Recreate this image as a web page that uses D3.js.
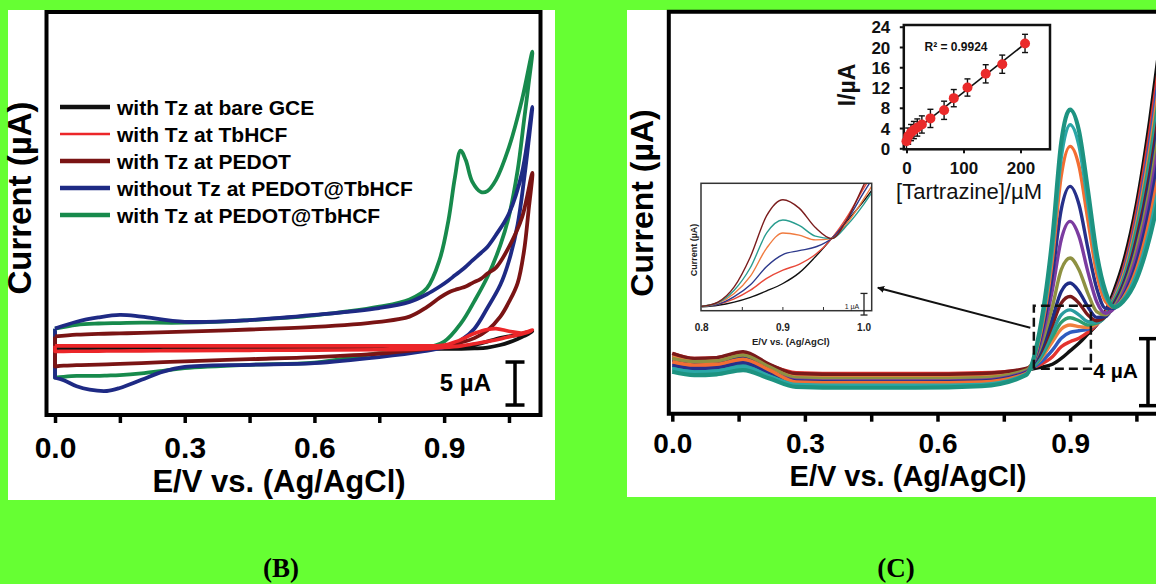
<!DOCTYPE html>
<html><head><meta charset="utf-8">
<script src="https://cdn.jsdelivr.net/npm/d3@7"></script>
<style>body{margin:0;background:#66ff33}svg{display:block}</style>
</head><body>
<svg id="c" width="1156" height="584"></svg>
<script>
// ---------------- Panel B data (cyclic voltammograms) ----------------
const bNames = ["with Tz at bare GCE","with Tz at TbHCF","with Tz at PEDOT","without Tz at PEDOT@TbHCF","with Tz at PEDOT@TbHCF"];
const bColors = ["#111111","#ec2629","#7a1414","#1e2a84","#178a4c"];
const bE_fwd = [0,0.05,0.1,0.15,0.2,0.3,0.45,0.6,0.75,0.82,0.86,0.89,0.91,0.925,0.938,0.95,0.965,0.985,1.0,1.02,1.05,1.08,1.104];
const bE_rev = [1.104,1.095,1.085,1.07,1.05,1.03,1.0,0.97,0.94,0.9,0.85,0.75,0.6,0.45,0.3,0.25,0.2,0.15,0.12,0.08,0.05,0.02,0];
const bBare_fwd  = [-0.3,-0.3,-0.3,-0.3,-0.3,-0.3,-0.3,-0.3,-0.3,-0.3,-0.3,-0.28,-0.25,-0.2,-0.15,-0.1,0.0,0.2,0.4,0.7,1.0,1.3,1.6];
const bBare_rev  = [1.6,1.3,1.05,0.7,0.3,0.0,-0.3,-0.4,-0.45,-0.45,-0.45,-0.45,-0.45,-0.47,-0.47,-0.48,-0.48,-0.49,-0.49,-0.5,-0.5,-0.5,-0.5];
const bTb_fwd    = [-0.1,-0.1,-0.1,-0.1,-0.1,-0.1,-0.1,-0.1,-0.1,-0.1,-0.1,-0.05,0.1,0.35,0.6,0.9,1.25,1.6,1.8,1.9,1.6,1.4,1.75];
const bTb_rev    = [1.75,1.5,1.35,1.15,0.95,0.7,0.4,0.15,-0.1,-0.3,-0.45,-0.55,-0.6,-0.62,-0.65,-0.66,-0.68,-0.7,-0.7,-0.72,-0.73,-0.74,-0.75];
const bPedot_fwd = [1.0,1.2,1.3,1.35,1.4,1.55,1.8,2.1,2.7,3.3,4.4,5.5,6.1,6.4,6.6,6.8,7.2,7.7,8.3,9.0,11.4,14.8,20.0];
const bPedot_rev = [20.0,15.5,11.0,7.2,5.0,3.3,1.7,0.8,0.3,-0.2,-0.5,-1.0,-1.4,-1.65,-1.9,-2.0,-2.1,-2.2,-2.25,-2.3,-2.35,-2.4,-2.5];
const bNoTz_fwd  = [1.9,2.7,3.2,3.5,3.3,2.7,2.9,3.5,4.3,5.0,5.9,6.8,7.5,8.1,8.6,9.1,9.8,10.7,11.4,12.8,15.3,20.0,27.7];
const bNoTz_rev  = [27.7,23.5,19.3,14.0,9.8,7.0,4.3,1.9,0.6,-0.25,-0.75,-1.4,-2.1,-2.3,-2.55,-3.1,-4.05,-5.0,-5.35,-5.2,-4.8,-4.1,-3.8];
const bFull_fwd  = [1.9,2.35,2.5,2.55,2.6,2.6,2.9,3.45,4.45,5.3,6.6,10.0,14.5,19.5,22.6,21.5,19.0,17.8,17.9,19.2,23.0,28.5,34.1];
const bFull_rev  = [34.1,30.2,26.2,20.3,15.0,11.6,7.9,5.1,2.6,0.4,-0.4,-0.95,-2.05,-2.3,-2.7,-3.0,-3.3,-3.5,-3.55,-3.6,-3.6,-3.7,-3.8];
const bXTicks = [0,0.3,0.6,0.9];
const bXTickLabels = ["0.0","0.3","0.6","0.9"];
const bXMinor = [0.15,0.45,0.75,1.05];

// ---------------- Panel C data (DPV) ----------------
const cE = [0,0.05,0.1,0.16,0.22,0.28,0.4,0.55,0.7,0.8,0.83,0.86,0.88,0.9,0.92,0.94,0.96,0.98,1.0,1.02,1.05,1.08,1.1];
const cBlack   = [3.4,3.25,3.3,3.65,2.9,2.35,2.3,2.3,2.35,2.6,2.75,2.95,3.3,3.75,4.2,4.75,5.3,6.1,7.4,9.0,12.5,17.5,21.5];
const cRed     = [3.6,3.3,3.35,3.6,2.9,2.45,2.4,2.4,2.45,2.65,2.9,3.4,4.0,4.3,4.5,4.85,5.3,6.0,7.1,8.6,12.0,16.8,20.6];
const cBlue    = [3.2,3.0,3.05,3.3,2.7,2.15,2.1,2.1,2.15,2.55,3.0,3.8,4.5,4.85,4.95,5.05,5.35,5.9,7.0,8.4,11.6,16.2,20.0];
const cOrange2 = [3.4,3.15,3.2,3.45,2.8,2.25,2.2,2.2,2.25,2.6,3.15,4.3,5.05,5.3,5.2,5.15,5.35,5.85,6.9,8.2,11.3,15.7,19.4];
const cGreen   = [2.6,2.45,2.5,2.75,2.2,1.8,1.75,1.75,1.85,2.45,3.2,4.6,5.45,5.73,5.55,5.3,5.4,5.85,6.8,8.0,11.0,15.2,18.8];
const cTeal2   = [2.8,2.6,2.65,2.9,2.3,1.85,1.8,1.8,1.9,2.5,3.3,4.9,5.9,6.2,5.9,5.5,5.45,5.8,6.7,7.9,10.7,14.8,18.3];
const cMaroon  = [3.6,3.3,3.35,3.7,2.95,2.4,2.35,2.35,2.4,2.7,3.5,5.3,6.6,7.0,6.6,5.9,5.55,5.8,6.6,7.7,10.4,14.3,17.8];
const cNavy2   = [3.2,3.0,3.05,3.35,2.7,2.05,2.0,2.0,2.05,2.55,3.6,5.7,7.3,7.8,7.3,6.4,5.75,5.8,6.5,7.6,10.1,13.9,17.3];
const cOlive   = [3.3,3.1,3.15,3.5,2.8,2.15,2.1,2.1,2.15,2.6,3.8,6.4,8.6,9.3,8.6,7.2,6.1,5.9,6.4,7.4,9.8,13.4,16.7];
const cPurple  = [3.0,2.8,2.85,3.15,2.5,2.0,1.95,1.95,2.0,2.5,4.0,7.4,10.4,11.48,10.6,8.5,6.7,6.0,6.3,7.2,9.4,12.9,16.0];
const cNavy1   = [2.9,2.7,2.75,3.05,2.45,1.95,1.9,1.9,1.95,2.45,4.2,8.3,12.2,13.57,12.5,9.9,7.5,6.3,6.3,7.0,9.0,12.3,15.2];
const cOrange1 = [3.1,2.9,2.95,3.25,2.6,1.9,1.85,1.85,1.9,2.4,4.4,9.2,14.2,15.96,14.8,11.6,8.4,6.7,6.35,6.9,8.6,11.6,14.3];
const cTurq    = [2.7,2.5,2.55,2.8,2.25,1.75,1.7,1.7,1.75,2.35,4.6,9.8,15.3,17.25,16.0,12.6,9.0,7.0,6.4,6.8,8.3,11.0,13.5];
const cTeal1   = [2.5,2.3,2.35,2.6,2.1,1.6,1.55,1.55,1.65,2.3,4.8,10.5,16.2,18.15,16.9,13.4,9.6,7.3,6.35,6.7,8.0,10.5,12.8];
const cSeries = [cBlack,cRed,cBlue,cOrange2,cGreen,cTeal2,cMaroon,cNavy2,cOlive,cPurple,cNavy1,cOrange1,cTurq,cTeal1];
const cColors = ["#111111","#e4332f","#2f5cbf","#f0803e","#2f9e70","#2a9c9e","#7a1a1a","#1f2c86","#8e9142","#7b3ca0","#27308a","#f26e33","#2ba7a7","#1d9381"];
const cXTicks = [0,0.3,0.6,0.9];
const cXTickLabels = ["0.0","0.3","0.6","0.9"];
const cXMinor = [0.15,0.45,0.75,1.05];

// zoomed CV inset
const zE = [0.8,0.82,0.84,0.86,0.88,0.9,0.92,0.94,0.96,0.98,1.0,1.01];
const zBlack  = [0.18,0.25,0.4,0.62,0.92,1.26,1.75,2.5,3.34,4.2,5.1,5.6];
const zRed    = [0.22,0.3,0.55,0.95,1.5,1.88,2.15,2.6,3.34,4.4,5.7,6.3];
const zBlue   = [0.2,0.3,0.65,1.2,2.05,2.6,2.78,2.95,3.34,4.25,5.5,6.1];
const zOrange = [0.2,0.35,0.8,1.6,2.9,3.6,3.5,3.28,3.34,4.1,5.2,5.8];
const zTeal   = [0.2,0.38,0.95,2.0,3.6,4.2,3.95,3.45,3.34,4.0,4.95,5.5];
const zBrown  = [0.2,0.4,1.1,2.5,4.4,5.14,4.75,3.85,3.34,4.3,5.85,6.6];
const zSeries = [zBlack,zRed,zBlue,zOrange,zTeal,zBrown];
const zColors = ["#111111","#e8493a","#2e3a8c","#f07b3f","#2a9d8f","#7b1d1d"];

// calibration inset
const tzConc = [0,3,8,13,19,27,42,66,83,107,139,168,208];
const tzCurr = [1.4,2.4,3.1,3.6,4.1,4.7,5.9,7.5,9.9,12.0,14.7,16.6,20.7];
const tzErr  = [1.5,1.6,1.6,1.7,1.7,1.7,1.8,1.8,1.7,1.7,1.8,1.8,1.8];
const tzYTicks = [0,4,8,12,16,20,24];
const tzXTicks = [0,100,200];

// ---------------- drawing ----------------
const FONT = "'Liberation Sans', Arial, sans-serif";
const svg = d3.select('#c');
svg.append('rect').attr('width',1156).attr('height',584).attr('fill','#66ff33');
svg.append('rect').attr('x',8).attr('y',10).attr('width',547).attr('height',490).attr('fill','#fff');
svg.append('rect').attr('x',627).attr('y',10).attr('width',529).attr('height',487).attr('fill','#fff');

const defs = svg.append('defs');

function bottomAxis(g, scale, major, minor, labels, size, baseline, tick, sw){
  const ax = d3.axisBottom(scale).tickValues(major.concat(minor)).tickSize(tick).tickSizeOuter(0)
    .tickFormat(d => { const i = major.indexOf(d); return i >= 0 ? labels[i] : ''; });
  g.call(ax);
  g.select('.domain').remove();
  g.selectAll('.tick line').attr('stroke','#000').attr('stroke-width',sw);
  g.selectAll('.tick text').attr('y',baseline).attr('dy',null).attr('fill','#000')
    .attr('font-family',FONT).attr('font-weight','bold').attr('font-size',size);
}

// ===== Panel B =====
const xB = d3.scaleLinear().domain([-0.0197,1.1229]).range([46.5,540.5]);
const yB = d3.scaleLinear().domain([-8.14,38.72]).range([415,12]);
const bFwd = [bBare_fwd,bTb_fwd,bPedot_fwd,bNoTz_fwd,bFull_fwd];
const bRev = [bBare_rev,bTb_rev,bPedot_rev,bNoTz_rev,bFull_rev];
const loopLine = d3.line().x(d=>xB(d[0])).y(d=>yB(d[1])).curve(d3.curveCatmullRom.alpha(0.5));
const bOrder = [0,4,3,2,1];
bOrder.forEach(k=>{
  const pts = bE_fwd.map((e,i)=>[e,bFwd[k][i]]).concat(bE_rev.slice(1).map((e,i)=>[e,bRev[k][i+1]]));
  const d = loopLine(pts) + 'L' + xB(bE_fwd[0]) + ',' + yB(bFwd[k][0]);
  svg.append('path').attr('d',d).attr('fill','none').attr('stroke',bColors[k])
    .attr('stroke-width',k===1?3.6:3.8).attr('stroke-linejoin','round');
});
svg.append('rect').attr('x',46.5).attr('y',12).attr('width',494).attr('height',403)
  .attr('fill','none').attr('stroke','#000').attr('stroke-width',4);
bottomAxis(svg.append('g').attr('transform','translate(0,415)'), xB, bXTicks, bXMinor, bXTickLabels, 30, 43, 8, 3.5);
svg.append('text').attr('x',279).attr('y',492).attr('text-anchor','middle').attr('font-family',FONT)
  .attr('font-weight','bold').attr('font-size',31).text('E/V vs. (Ag/AgCl)');
svg.append('text').attr('transform','translate(31,198) rotate(-90)').attr('text-anchor','middle')
  .attr('font-family',FONT).attr('font-weight','bold').attr('font-size',33).text('Current (µA)');
// legend
bNames.forEach((n,i)=>{
  const y = 107 + i*27;
  svg.append('line').attr('x1',60).attr('x2',110).attr('y1',y).attr('y2',y)
    .attr('stroke',bColors[i]).attr('stroke-width',i===1?2.5:4.5);
  svg.append('text').attr('x',117).attr('y',y+7.5).attr('font-family',FONT).attr('font-weight','bold')
    .attr('font-size',21).text(n);
});
// 5 uA scale bar
const sbB = [-6.98,-1.98];
svg.append('line').attr('x1',515).attr('x2',515).attr('y1',yB(sbB[0])).attr('y2',yB(sbB[1])).attr('stroke','#000').attr('stroke-width',3.5);
sbB.forEach(v=>svg.append('line').attr('x1',505.5).attr('x2',524.5).attr('y1',yB(v)).attr('y2',yB(v)).attr('stroke','#000').attr('stroke-width',3.5));
svg.append('text').attr('x',491).attr('y',390.5).attr('text-anchor','end').attr('font-family',FONT)
  .attr('font-weight','bold').attr('font-size',24).text('5 µA');

// ===== Panel C =====
const xC = d3.scaleLinear().domain([-0.0079,1.1]).range([668.8,1158.5]);
const yC = d3.scaleLinear().domain([0,24]).range([413.7,11.7]);
defs.append('clipPath').attr('id','clipC').append('rect').attr('x',668.8).attr('y',11.7).attr('width',520).attr('height',402);
const gC = svg.append('g').attr('clip-path','url(#clipC)');
const cLine = d3.line().x((d,i)=>xC(cE[i])).y(d=>yC(d)).curve(d3.curveMonotoneX);
cSeries.forEach((s,k)=>{
  gC.append('path').attr('d',cLine(s)).attr('fill','none').attr('stroke',cColors[k])
    .attr('stroke-width',k===cSeries.length-1?4.2:3.4).attr('stroke-linejoin','round');
});
svg.append('path').attr('d',`M1175,11.7H668.8V413.7H1175`).attr('fill','none').attr('stroke','#000').attr('stroke-width',4);
bottomAxis(svg.append('g').attr('transform','translate(0,413.7)'), xC, cXTicks, cXMinor, cXTickLabels, 28, 39, 8, 3.5);
svg.append('text').attr('x',908).attr('y',486).attr('text-anchor','middle').attr('font-family',FONT)
  .attr('font-weight','bold').attr('font-size',29).text('E/V vs. (Ag/AgCl)');
svg.append('text').attr('transform','translate(653,203) rotate(-90)').attr('text-anchor','middle')
  .attr('font-family',FONT).attr('font-weight','bold').attr('font-size',32).text('Current (µA)');

// dashed zoom window
const win = {e0:0.818,e1:0.947,i0:2.69,i1:6.45};
svg.append('path').attr('d',`M${xC(win.e0)},${yC(win.i0)}V${yC(win.i1)}H${xC(win.e1)}V${yC(win.i0)}H${xC(win.e0)}`)
  .attr('fill','none').attr('stroke','#111').attr('stroke-width',2.5).attr('stroke-dasharray','9,5');
// arrow
const arrTail = [0.81,5.13], arrHead = [0.465,7.52];
defs.append('marker').attr('id','ah').attr('viewBox','0 0 10 10').attr('refX',9).attr('refY',5)
  .attr('markerWidth',7).attr('markerHeight',7).attr('markerUnits','userSpaceOnUse').attr('orient','auto')
  .append('path').attr('d','M0,0L10,5L0,10z').attr('fill','#111');
svg.append('line').attr('x1',xC(arrTail[0])).attr('y1',yC(arrTail[1])).attr('x2',xC(arrHead[0])).attr('y2',yC(arrHead[1]))
  .attr('stroke','#111').attr('stroke-width',2).attr('marker-end','url(#ah)');
// 4 uA scale bar
const sbC = [0.48,4.48];
svg.append('line').attr('x1',1148).attr('x2',1148).attr('y1',yC(sbC[0])).attr('y2',yC(sbC[1])).attr('stroke','#000').attr('stroke-width',3.5);
sbC.forEach(v=>svg.append('line').attr('x1',1139).attr('x2',1157).attr('y1',yC(v)).attr('y2',yC(v)).attr('stroke','#000').attr('stroke-width',3.5));
svg.append('text').attr('x',1138).attr('y',378).attr('text-anchor','end').attr('font-family',FONT)
  .attr('font-weight','bold').attr('font-size',21).text('4 µA');

// ===== zoomed CV inset =====
const xZ = d3.scaleLinear().domain([0.7991,1.0094]).range([701,871.7]);
const yZ = d3.scaleLinear().domain([0,5.9]).range([310.7,183.3]);
svg.append('rect').attr('x',701).attr('y',183.3).attr('width',170.7).attr('height',127.4).attr('fill','#fff');
defs.append('clipPath').attr('id','clipZ').append('rect').attr('x',701).attr('y',183.3).attr('width',170.7).attr('height',127.4);
const gZ = svg.append('g').attr('clip-path','url(#clipZ)');
const zLine = d3.line().x((d,i)=>xZ(zE[i])).y(d=>yZ(d)).curve(d3.curveMonotoneX);
zSeries.forEach((s,k)=>gZ.append('path').attr('d',zLine(s)).attr('fill','none').attr('stroke',zColors[k]).attr('stroke-width',1.4));
svg.append('rect').attr('x',701).attr('y',183.3).attr('width',170.7).attr('height',127.4)
  .attr('fill','none').attr('stroke','#333').attr('stroke-width',1.5);
[0.85,0.9,0.95].forEach(v=>svg.append('line').attr('x1',xZ(v)).attr('x2',xZ(v)).attr('y1',310.7).attr('y2',307).attr('stroke','#333').attr('stroke-width',1));
[[0.8,'0.8'],[0.9,'0.9'],[1.0,'1.0']].forEach(t=>svg.append('text').attr('x',xZ(t[0])).attr('y',330.5)
  .attr('text-anchor','middle').attr('font-family',FONT).attr('font-weight','bold').attr('font-size',10).attr('fill','#222').text(t[1]));
svg.append('text').attr('x',790.8).attr('y',345).attr('text-anchor','middle').attr('font-family',FONT)
  .attr('font-weight','bold').attr('font-size',9.5).attr('fill','#222').text('E/V vs. (Ag/AgCl)');
svg.append('text').attr('transform','translate(697,250) rotate(-90)').attr('text-anchor','middle').attr('font-family',FONT)
  .attr('font-weight','bold').attr('font-size',9).attr('fill','#222').text('Current (µA)');
const sbZ = [-0.2,0.8];
svg.append('line').attr('x1',864).attr('x2',864).attr('y1',yZ(sbZ[0])).attr('y2',yZ(sbZ[1])).attr('stroke','#222').attr('stroke-width',1.3);
sbZ.forEach(v=>svg.append('line').attr('x1',860.5).attr('x2',867.5).attr('y1',yZ(v)).attr('y2',yZ(v)).attr('stroke','#222').attr('stroke-width',1.3));
svg.append('text').attr('x',852).attr('y',308.5).attr('text-anchor','middle').attr('font-family',FONT)
  .attr('font-size',7).attr('fill','#222').text('1 µA');

// ===== calibration inset =====
const xT = d3.scaleLinear().domain([-4.7,251.8]).range([903.8,1050]);
const yT = d3.scaleLinear().domain([-0.2,24.34]).range([149.3,25]);
svg.append('rect').attr('x',903.8).attr('y',25).attr('width',146.2).attr('height',124.3).attr('fill','#fff')
  .attr('stroke','#111').attr('stroke-width',2.5);
const gTy = svg.append('g').attr('transform','translate(903.8,0)');
gTy.call(d3.axisLeft(yT).tickValues(tzYTicks).tickSize(4).tickSizeOuter(0));
gTy.select('.domain').remove();
gTy.selectAll('.tick line').attr('stroke','#111').attr('stroke-width',2);
gTy.selectAll('.tick text').attr('x',-13.5).attr('dy','0.36em').attr('fill','#111').attr('font-family',FONT)
  .attr('font-weight','bold').attr('font-size',17);
const gTx = svg.append('g').attr('transform','translate(0,149.3)');
gTx.call(d3.axisBottom(xT).tickValues(tzXTicks).tickSize(4).tickSizeOuter(0));
gTx.select('.domain').remove();
gTx.selectAll('.tick line').attr('stroke','#111').attr('stroke-width',2);
gTx.selectAll('.tick text').attr('y',24.5).attr('dy',null).attr('fill','#111').attr('font-family',FONT)
  .attr('font-weight','bold').attr('font-size',17);
// regression line from data
const mx = d3.mean(tzConc), my = d3.mean(tzCurr);
const slope = d3.sum(tzConc.map((x,i)=>(x-mx)*(tzCurr[i]-my))) / d3.sum(tzConc.map(x=>(x-mx)*(x-mx)));
const icpt = my - slope*mx;
svg.append('line').attr('x1',xT(0)).attr('y1',yT(icpt)).attr('x2',xT(210)).attr('y2',yT(icpt+slope*210))
  .attr('stroke','#111').attr('stroke-width',1.6);
tzConc.forEach((c,i)=>{
  const x = xT(c), y0 = yT(tzCurr[i]-tzErr[i]), y1 = yT(tzCurr[i]+tzErr[i]);
  svg.append('line').attr('x1',x).attr('x2',x).attr('y1',y0).attr('y2',y1).attr('stroke','#111').attr('stroke-width',1.4);
  [y0,y1].forEach(yy=>svg.append('line').attr('x1',x-3).attr('x2',x+3).attr('y1',yy).attr('y2',yy).attr('stroke','#111').attr('stroke-width',1.4));
});
tzConc.forEach((c,i)=>svg.append('circle').attr('cx',xT(c)).attr('cy',yT(tzCurr[i])).attr('r',5).attr('fill','#ea2a2a'));
svg.append('text').attr('x',956).attr('y',51).attr('text-anchor','middle').attr('font-family',FONT)
  .attr('font-weight','bold').attr('font-size',12).attr('fill','#111').text('R² = 0.9924');
svg.append('text').attr('transform','translate(855,85) rotate(-90)').attr('text-anchor','middle').attr('font-family',FONT)
  .attr('font-weight','bold').attr('font-size',23).attr('fill','#111').text('I/µA');
svg.append('text').attr('x',969).attr('y',199).attr('text-anchor','middle').attr('font-family',FONT)
  .attr('font-size',22).attr('fill','#111').text('[Tartrazine]/µM');

// ===== panel letters =====
svg.append('text').attr('x',281).attr('y',577).attr('text-anchor','middle').attr('font-family',"'Liberation Serif','Times New Roman',serif")
  .attr('font-weight','bold').attr('font-size',27).text('(B)');
svg.append('text').attr('x',896).attr('y',577).attr('text-anchor','middle').attr('font-family',"'Liberation Serif','Times New Roman',serif")
  .attr('font-weight','bold').attr('font-size',27).text('(C)');
</script>
</body></html>
